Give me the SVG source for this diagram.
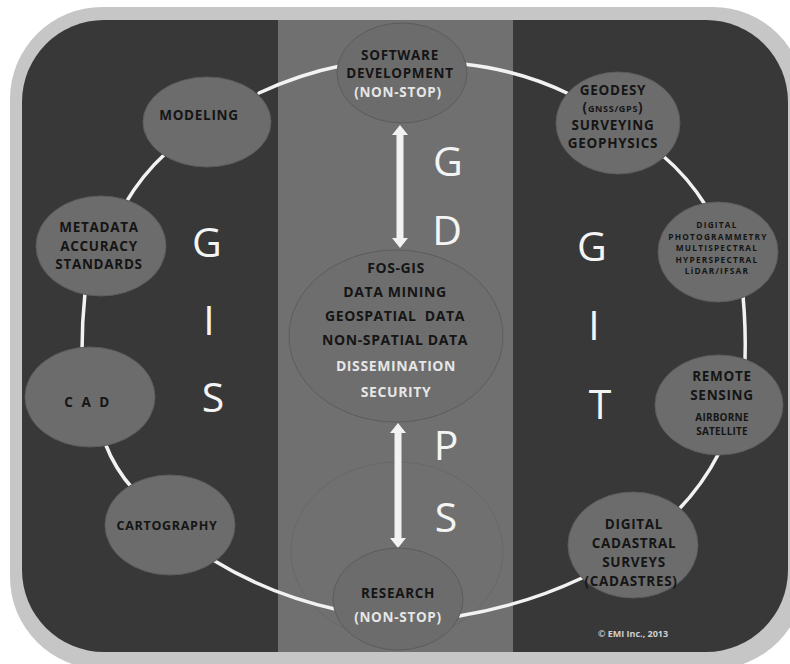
<svg xmlns="http://www.w3.org/2000/svg" width="790" height="664" viewBox="0 0 790 664">
<defs>
<style>
.node{fill:#6c6c6c;stroke:#5c5c5c;stroke-width:1}
.t{font-family:"Open Sans","Liberation Sans",sans-serif;font-weight:700;fill:#151515;text-anchor:middle;font-size:13.5px;letter-spacing:0.7px}
.w{fill:#e6e6e6}
.s{font-size:8.3px;letter-spacing:1.2px}
.m{font-size:10px;letter-spacing:0.2px}
.c{font-size:14px;letter-spacing:0.6px}
.big{font-family:"Open Sans","Liberation Sans",sans-serif;font-weight:400;fill:#f4f4f4;text-anchor:middle;font-size:41px}
.ring{fill:none;stroke:#f2f2f2;stroke-width:3.5;stroke-linecap:round}
.arrow{fill:#f2f2f2}
</style>
</defs>
<rect x="0" y="0" width="790" height="664" fill="#ffffff"/>
<rect x="10" y="7" width="795" height="662" rx="92" fill="#c6c6c6"/>
<rect x="22" y="20" width="766" height="632" rx="82" fill="#383838"/>
<rect x="278" y="20" width="235" height="632" fill="#707070"/>
<ellipse cx="397" cy="551" rx="106" ry="89" fill="none" stroke="#686868" stroke-width="1"/>

<g id="connectors">
<path class="ring" d="M340,66 Q300,74 259,93"/>
<path class="ring" d="M463,64 Q520,70 569,94"/>
<path class="ring" d="M166,153 Q142,175 125,204"/>
<path class="ring" d="M85,293 Q82,322 82,351"/>
<path class="ring" d="M105,443 Q115,469 133,489"/>
<path class="ring" d="M213,560 Q270,595 339,610"/>
<path class="ring" d="M459,616 Q525,605 582,578"/>
<path class="ring" d="M670,518 Q700,490 719,453"/>
<path class="ring" d="M745,361 Q746,328 743,296"/>
<path class="ring" d="M706,206 Q688,177 662,155"/>
<path class="arrow" d="M400,125 L408,135 L403.5,135 L403.5,238 L408,238 L400,248 L392,238 L396.5,238 L396.5,135 L392,135 Z"/>
<path class="arrow" d="M398,423 L406,433 L401.5,433 L401.5,538 L406,538 L398,548 L390,538 L394.5,538 L394.5,433 L390,433 Z"/>
</g>

<g id="letters">
<text class="big" x="448" y="176">G</text>
<text class="big" x="447" y="245">D</text>
<text class="big" x="446" y="460">P</text>
<text class="big" x="446" y="532">S</text>
<text class="big" x="207" y="257">G</text>
<text class="big" x="209" y="335">I</text>
<text class="big" x="213" y="412">S</text>
<text class="big" x="592" y="261">G</text>
<text class="big" x="594" y="340">I</text>
<text class="big" x="600" y="419">T</text>
</g>

<g id="n-software">
<ellipse class="node" cx="402" cy="73" rx="65" ry="50"/>
<text class="t" x="400" y="59.5">SOFTWARE</text>
<text class="t" x="400" y="78">DEVELOPMENT</text>
<text class="t w" x="398" y="97">(NON-STOP)</text>
</g>
<g id="n-modeling">
<ellipse class="node" cx="207" cy="122" rx="64" ry="45"/>
<text class="t" x="199" y="120">MODELING</text>
</g>
<g id="n-metadata">
<ellipse class="node" cx="101" cy="246" rx="65" ry="50"/>
<text class="t" x="99" y="232">METADATA</text>
<text class="t" x="99" y="250.5">ACCURACY</text>
<text class="t" x="99" y="269">STANDARDS</text>
</g>
<g id="n-cad">
<ellipse class="node" cx="90" cy="397" rx="65" ry="50"/>
<text class="t" x="88" y="407" style="letter-spacing:2.5px">C A D</text>
</g>
<g id="n-cartography">
<ellipse class="node" cx="170" cy="525" rx="65" ry="50"/>
<text class="t" x="167" y="530" style="font-size:12.5px">CARTOGRAPHY</text>
</g>
<g id="n-research">
<ellipse class="node" cx="398" cy="599" rx="65" ry="51"/>
<text class="t" x="398" y="598">RESEARCH</text>
<text class="t w" x="398" y="622">(NON-STOP)</text>
</g>
<g id="n-cadastral">
<ellipse class="node" cx="633" cy="545" rx="65" ry="53"/>
<text class="t" x="634" y="529">DIGITAL</text>
<text class="t" x="634" y="548">CADASTRAL</text>
<text class="t" x="634" y="567">SURVEYS</text>
<text class="t" x="631" y="586">(CADASTRES)</text>
</g>
<g id="n-remote">
<ellipse class="node" cx="719" cy="405" rx="64" ry="50"/>
<text class="t" x="722" y="381">REMOTE</text>
<text class="t" x="722" y="400">SENSING</text>
<text class="t m" x="722" y="421">AIRBORNE</text>
<text class="t m" x="722" y="435">SATELLITE</text>
</g>
<g id="n-photogrammetry">
<ellipse class="node" cx="718" cy="252" rx="60" ry="50"/>
<text class="t s" x="717" y="228">DIGITAL</text>
<text class="t s" x="718" y="239.5">PHOTOGRAMMETRY</text>
<text class="t s" x="717" y="251">MULTISPECTRAL</text>
<text class="t s" x="717" y="262.5">HYPERSPECTRAL</text>
<text class="t s" x="717" y="274">LiDAR/IFSAR</text>
</g>
<g id="n-geodesy">
<ellipse class="node" cx="618" cy="123" rx="62" ry="51"/>
<text class="t" x="613" y="95">GEODESY</text>
<text class="t" x="613" y="112">(<tspan style="font-size:9px">GNSS/GPS</tspan>)</text>
<text class="t" x="613" y="130">SURVEYING</text>
<text class="t" x="613" y="148">GEOPHYSICS</text>
</g>
<g id="n-center">
<ellipse class="node" cx="396" cy="336" rx="107" ry="86" style="fill:#6e6e6e"/>
<text class="t c" x="396" y="273">FOS-GIS</text>
<text class="t c" x="395" y="297">DATA MINING</text>
<text class="t c" x="395" y="321" style="word-spacing:4px">GEOSPATIAL DATA</text>
<text class="t c" x="395" y="345">NON-SPATIAL DATA</text>
<text class="t c w" x="396" y="371">DISSEMINATION</text>
<text class="t c w" x="396" y="397">SECURITY</text>
</g>
<text x="633" y="637" font-family="Open Sans, Liberation Sans, sans-serif" font-size="9" font-weight="700" fill="#cfcfcf" text-anchor="middle">© EMI Inc., 2013</text>
</svg>
